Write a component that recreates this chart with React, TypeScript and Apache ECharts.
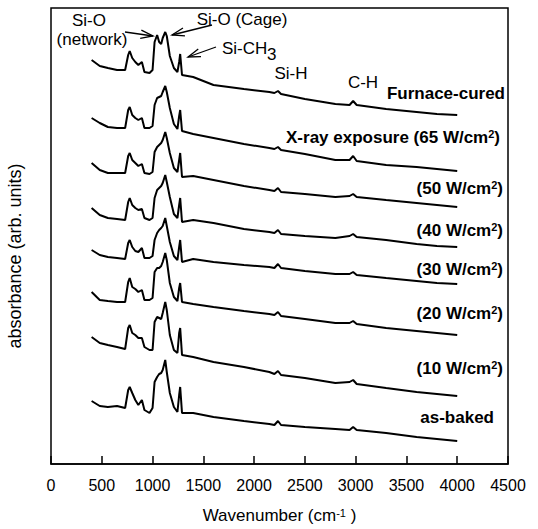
import React, { useEffect, useRef } from 'react';
import * as echarts from 'echarts';

// Wavenumber grid (cm^-1) shared by all spectra
const wavenumbers = [400, 480, 560, 650, 730, 760, 775, 800, 830, 860, 895, 920, 970, 1000, 1020, 1045, 1065, 1085, 1100, 1125, 1140, 1170, 1210, 1245, 1262, 1272, 1290, 1400, 1600, 1900, 2150, 2200, 2235, 2265, 2500, 2800, 2940, 2975, 3010, 3300, 3600, 3800, 4000];

// Absorbance (arb. units, offset stacked) for each spectrum
const furnaceCured = [404, 398, 396, 394, 394, 409, 413, 406, 402, 399, 402, 392, 391, 394, 422, 429, 422, 420, 426, 432, 428, 408, 396, 392, 402, 410, 389, 387, 379, 375, 372, 371, 373, 370, 365, 360, 359, 363, 359, 355, 352, 350, 349];
const xray65 = [346, 341, 337, 336, 336, 354, 357, 349, 346, 344, 346, 336, 336, 338, 359, 366, 367, 368, 372, 378, 372, 356, 340, 335, 348, 354, 333, 330, 326, 320, 316, 315, 317, 314, 310, 304, 304, 308, 303, 299, 297, 295, 293];
const xray50 = [301, 294, 291, 291, 291, 308, 311, 304, 301, 298, 300, 291, 290, 292, 312, 317, 319, 321, 324, 332, 326, 311, 296, 292, 304, 311, 287, 288, 284, 278, 274, 273, 276, 272, 270, 267, 268, 270, 267, 264, 261, 259, 257];
const xray40 = [256, 249, 246, 245, 244, 262, 266, 259, 256, 254, 255, 246, 244, 246, 266, 274, 276, 278, 281, 289, 282, 267, 250, 246, 259, 266, 242, 244, 241, 235, 232, 231, 234, 230, 228, 226, 228, 230, 227, 224, 220, 218, 217];
const xray30 = [214, 209, 207, 206, 205, 221, 224, 217, 213, 212, 216, 206, 206, 208, 224, 231, 234, 236, 238, 246, 238, 222, 208, 204, 217, 224, 202, 205, 202, 199, 197, 196, 200, 196, 193, 190, 190, 192, 189, 186, 183, 181, 180];
const xray20 = [172, 164, 163, 162, 162, 182, 186, 177, 175, 172, 174, 164, 164, 166, 192, 196, 196, 198, 202, 211, 204, 181, 167, 163, 176, 181, 162, 160, 157, 153, 150, 149, 152, 148, 145, 141, 141, 143, 140, 136, 133, 131, 129];
const xray10 = [127, 121, 119, 117, 115, 136, 139, 131, 129, 126, 126, 117, 114, 114, 142, 147, 146, 145, 151, 162, 154, 129, 114, 111, 131, 136, 109, 107, 102, 97, 92, 90, 93, 89, 86, 81, 82, 84, 80, 76, 72, 70, 68];
const asBaked = [63, 58, 57, 58, 56, 74, 77, 71, 64, 59, 64, 54, 51, 56, 82, 87, 90, 91, 94, 104, 92, 71, 57, 52, 69, 77, 51, 51, 47, 43, 40, 39, 43, 39, 37, 35, 34, 37, 34, 31, 27, 25, 23];

const seriesNames = ['Furnace-cured', 'X-ray exposure (65 W/cm2)', '(50 W/cm2)', '(40 W/cm2)', '(30 W/cm2)', '(20 W/cm2)', '(10 W/cm2)', 'as-baked'];
const seriesValues = [furnaceCured, xray65, xray50, xray40, xray30, xray20, xray10, asBaked];

const xTicks = { min: 0, max: 4500, interval: 500 };

const FONT = 'Liberation Sans, Arial, Helvetica, sans-serif';

function arrow(tx: number, ty: number, hx: number, hy: number) {
  const ang = Math.atan2(ty - hy, tx - hx);
  const L = 13;
  const a = 0.32;
  const w1 = [hx + L * Math.cos(ang + a), hy + L * Math.sin(ang + a)];
  const w2 = [hx + L * Math.cos(ang - a), hy + L * Math.sin(ang - a)];
  const st = { stroke: '#000', lineWidth: 1.3, fill: 'none' };
  return [
    { type: 'line', shape: { x1: tx, y1: ty, x2: hx, y2: hy }, style: st },
    { type: 'polyline', shape: { points: [w1, [hx, hy], w2] }, style: st },
  ];
}

function txt(text: string, x: number, y: number, size: number, align: string, bold = false, extra: any = {}) {
  return {
    type: 'text',
    x,
    y,
    ...extra,
    style: {
      text,
      fill: '#000',
      fontSize: size,
      fontFamily: FONT,
      fontWeight: bold ? 'bold' : 'normal',
      align,
      verticalAlign: 'middle',
    },
  };
}

function supText(main1: string, sup: string, main2: string, x: number, y: number, size: number, align: string, bold: boolean) {
  const fw = bold ? 'bold' : 'normal';
  return {
    type: 'text',
    x,
    y,
    style: {
      text: `{m|${main1}}{s|${sup}}{m|${main2}}`,
      align,
      verticalAlign: 'middle',
      rich: {
        m: { fontSize: size, fontFamily: FONT, fontWeight: fw, fill: '#000', lineHeight: size },
        s: { fontSize: Math.round(size * 0.62), fontFamily: FONT, fontWeight: fw, fill: '#000', lineHeight: Math.round(size * 0.62), verticalAlign: 'top' },
      },
    },
  };
}

export default function App() {
  const ref = useRef<HTMLDivElement>(null);
  useEffect(() => {
    const chart = echarts.init(ref.current!, null, { renderer: 'svg' });
    const series = seriesValues.map((vals, k) => ({
      type: 'line',
      name: seriesNames[k],
      data: wavenumbers.map((w, i) => [w, vals[i]]),
      showSymbol: false,
      symbol: 'none',
      silent: true,
      lineStyle: { color: '#000', width: 2 },
      itemStyle: { color: '#000' },
    }));

    const graphic: any[] = [
      txt('absorbance (arb. units)', 15, 256, 18, 'center', false, { rotation: Math.PI / 2 }),
      txt('Si-O', 89, 20, 17, 'center'),
      txt('(network)', 92, 39, 17, 'center'),
      txt('Si-O (Cage)', 242, 19, 17, 'center'),
      txt('Si-CH', 222, 48, 17, 'left'),
      txt('3', 267, 54, 17, 'left'),
      txt('Si-H', 291, 73, 17, 'center'),
      txt('C-H', 363, 82, 17, 'center'),
      txt('Furnace-cured', 505, 93, 17, 'right', true),
      supText('X-ray exposure (65 W/cm', '2', ')', 500, 137, 17, 'right', true),
      supText('(50 W/cm', '2', ')', 503, 188, 17, 'right', true),
      supText('(40 W/cm', '2', ')', 503, 230, 17, 'right', true),
      supText('(30 W/cm', '2', ')', 503, 269, 17, 'right', true),
      supText('(20 W/cm', '2', ')', 503, 313, 17, 'right', true),
      supText('(10 W/cm', '2', ')', 503, 368, 17, 'right', true),
      txt('as-baked', 494, 417, 17, 'right', true),
      ...arrow(125, 32, 153, 36),
      ...arrow(212, 25, 172, 35),
      ...arrow(216, 47, 188, 57),
    ];

    chart.setOption({
      animation: false,
      backgroundColor: '#fff',
      grid: { left: 51, top: 8, width: 457, height: 456, show: true, borderColor: '#000', borderWidth: 1.5, backgroundColor: 'transparent' },
      xAxis: {
        type: 'value',
        min: xTicks.min,
        max: xTicks.max,
        interval: xTicks.interval,
        axisLine: { show: true, lineStyle: { color: '#000', width: 1.5 } },
        axisTick: { show: true, inside: true, length: 8, lineStyle: { color: '#000', width: 1.5 } },
        axisLabel: { color: '#000', fontSize: 16, fontFamily: FONT, margin: 13, formatter: (v: number) => String(v) },
        splitLine: { show: false },
        name: '{m|Wavenumber (cm}{s|-1}{m| )}',
        nameLocation: 'middle',
        nameGap: 43,
        nameTextStyle: {
          rich: {
            m: { fontSize: 17, fontFamily: FONT, color: '#000', lineHeight: 17 },
            s: { fontSize: 11, fontFamily: FONT, color: '#000', lineHeight: 11, verticalAlign: 'top' },
          },
        },
      },
      yAxis: {
        type: 'value',
        min: 0,
        max: 456,
        show: false,
      },
      series,
      graphic,
    });
    return () => chart.dispose();
  }, []);
  return <div ref={ref} style={{ position: 'absolute', left: 0, top: 0, width: 538, height: 529 }} />;
}
